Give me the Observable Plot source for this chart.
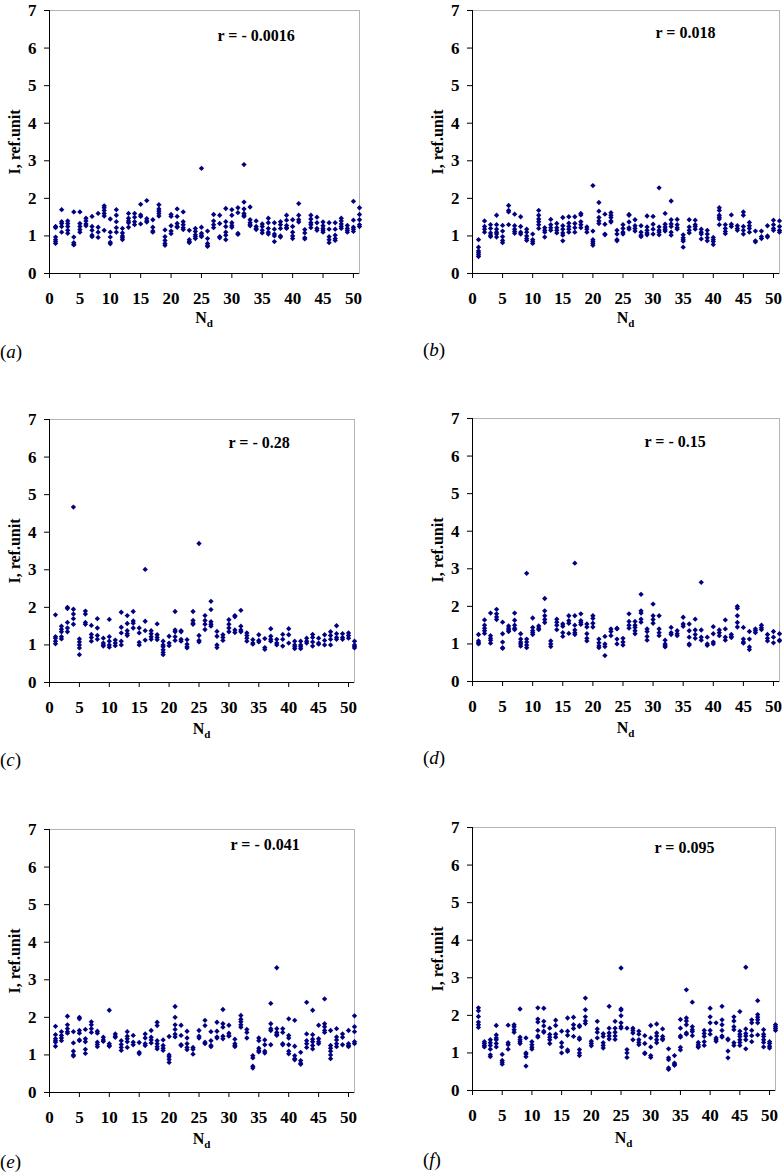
<!DOCTYPE html>
<html><head><meta charset="utf-8">
<script src="https://cdn.jsdelivr.net/npm/d3@7"></script>
<script src="https://cdn.jsdelivr.net/npm/@observablehq/plot@0.6"></script>
<style>
body{margin:0;background:#fff;}
#root{position:relative;width:782px;height:1172px;overflow:hidden;font-family:"Liberation Serif","Times New Roman",serif;background:#fff;}
.panel{position:absolute;}
.tag{position:absolute;font-size:19px;line-height:22px;color:#000;}
.xl{position:absolute;font-weight:bold;font-size:16px;line-height:18px;color:#000;transform:translate(-50%,-50%);white-space:nowrap;}
.xl sub{font-size:11px;vertical-align:-4px;line-height:0;}
</style></head><body><div id="root"></div><script>
// N_d categories
const nd = [1,2,3,4,5,6,7,8,9,10,11,12,13,14,15,16,17,18,19,20,21,22,23,24,25,26,27,28,29,30,31,32,33,34,35,36,37,38,39,40,41,42,43,44,45,46,47,48,49,50,51];
const xTicks = [0,5,10,15,20,25,30,35,40,45,50];
const yTicks = [0,1,2,3,4,5,6,7];
const panelTags = ["a","b","c","d","e","f"];
const rLabels = ["r = - 0.0016","r = 0.018","r = - 0.28","r = - 0.15","r = - 0.041","r = 0.095"];

const valuesA = [[1.25,1.22,0.97,0.9,0.85,0.8],[1.7,1.38,1.33,1.25,1.1],[1.4,1.33,1.25,1.15,1.07],[1.64,0.97,0.82,0.78,0.76],[1.64,1.33,1.25,1.17,1.1],[1.47,1.4,1.32,1.27],[1.52,1.25,1.15,1.02,0.98],[1.6,1.23,1.1,0.96],[1.8,1.75,1.68,1.6,1.53,1.15],[1.45,1.1,0.97,0.83,0.79],[1.7,1.55,1.38,1.22,1.1],[1.2,1.08,1.0,0.95,0.9],[1.6,1.47,1.4,1.35,1.23],[1.6,1.5,1.38,1.3],[1.84,1.56,1.52,1.32],[1.94,1.46,1.4,1.37],[1.43,1.23,1.13,1.1],[1.83,1.72,1.66,1.6,1.53],[1.16,0.98,0.88,0.8,0.75],[1.57,1.52,1.27,1.13,1.06],[1.72,1.52,1.33,1.25,1.23],[1.64,1.38,1.3,1.22,1.17],[1.15,0.9,0.85,0.82],[1.2,1.12,1.03,0.98,0.93],[2.8,1.23,1.07,1.02,0.98],[1.13,0.93,0.8,0.75,0.72],[1.57,1.4,1.3,1.22],[1.55,1.33,0.98,0.95],[1.73,1.38,1.25,1.1,1.02,0.9],[1.7,1.55,1.35,1.28,1.23],[1.75,1.62,1.07,1.04],[2.9,1.9,1.72,1.6,1.55,1.52],[1.77,1.43,1.35,1.3,1.27],[1.4,1.25,1.2,1.17],[1.32,1.25,1.15,1.08],[1.47,1.35,1.2,1.1,1.05],[1.35,1.18,1.05,1.0,0.85],[1.38,1.3,1.2,1.0,0.97],[1.55,1.42,1.28,1.22,1.2],[1.43,1.25,1.1,1.0,0.93],[1.86,1.55,1.43,1.37],[1.17,1.08,0.95,0.92],[1.55,1.45,1.35,1.3,1.22],[1.5,1.35,1.2,1.15],[1.37,1.27,1.2,1.15,1.1],[1.35,1.18,0.98,0.9,0.82],[1.35,1.18,1.02,0.93,0.88],[1.47,1.4,1.32,1.25,1.2],[1.28,1.2,1.15,1.1],[1.92,1.42,1.23,1.18,1.12],[1.75,1.57,1.43,1.3,1.25]];

const valuesB = [[0.9,0.7,0.6,0.55,0.5,0.45],[1.4,1.25,1.18,1.1],[1.3,1.2,1.08,1.02,0.98],[1.55,1.3,1.18,1.1,1.05,0.97],[1.28,1.13,0.98,0.88,0.82],[1.81,1.68,1.64,1.3],[1.58,1.27,1.18,1.12,1.07],[1.51,1.25,1.1,1.05],[1.18,1.1,1.0,0.93,0.88],[1.05,0.9,0.85,0.8],[1.68,1.55,1.45,1.38,1.3,1.2],[1.22,1.15,1.1,0.97],[1.44,1.3,1.22,1.15],[1.33,1.22,1.15,1.08],[1.49,1.27,1.18,1.08,1.02,0.87],[1.51,1.34,1.25,1.18,1.1],[1.51,1.33,1.22,1.1],[1.6,1.56,1.38,1.3,1.22],[1.24,1.18,1.1],[2.34,1.13,0.9,0.85,0.8,0.75],[1.89,1.66,1.49,1.4,1.33],[1.58,1.31,1.05,1.03],[1.62,1.55,1.49,1.4,1.37],[1.15,1.05,0.9,0.87],[1.3,1.2,1.1,1.05],[1.57,1.55,1.37,1.22,1.18],[1.43,1.27,1.2,1.13],[1.27,1.1,1.02,0.98],[1.53,1.24,1.15,1.08,1.03],[1.52,1.31,1.18,1.05],[2.28,1.24,1.15,1.1,1.03],[1.6,1.31,1.24,1.18,1.13],[1.93,1.43,1.32,1.25,1.1,1.02],[1.44,1.3,1.22,1.18],[1.03,0.95,0.9,0.86,0.7],[1.43,1.24,1.15,1.08],[1.42,1.3,1.25,1.18],[1.18,1.1,1.05,0.92],[1.15,1.05,0.95,0.87],[0.96,0.9,0.85,0.77],[1.75,1.68,1.55,1.5,1.45,1.3],[1.3,1.2,1.12,1.06],[1.56,1.31,1.25],[1.27,1.2,1.15],[1.64,1.55,1.25,1.15,1.05],[1.36,1.27,1.2,1.1],[1.13,0.87,0.84],[1.13,0.98,0.93],[1.27,1.0,0.97],[1.42,1.3,1.2,1.15],[1.4,1.25,1.15,1.1]];

const valuesC = [[1.8,1.22,1.18,1.1,1.03],[1.5,1.42,1.35,1.22,1.16],[2.0,1.97,1.6,1.45,1.35],[4.67,1.95,1.82,1.7,1.55],[1.16,1.08,1.0,0.92,0.74],[1.9,1.82,1.6,1.55],[1.52,1.28,1.2,1.1],[1.7,1.45,1.25,1.15],[1.18,1.05,1.0,0.97],[1.68,1.22,1.1,1.0,0.94],[1.13,1.05,0.98],[1.87,1.47,1.32,1.1,1.0],[1.78,1.57,1.38,1.3,1.25],[1.89,1.64,1.58,1.45],[1.45,1.32,1.07,1.0],[3.01,1.63,1.38,1.13],[1.38,1.3,1.22,1.15],[1.56,1.27,1.2,1.14],[1.1,1.0,0.95,0.87,0.8,0.74],[1.23,1.05,0.98],[1.89,1.4,1.35,1.22,1.12],[1.38,1.35,1.15,1.1],[1.14,1.02,0.95,0.92],[1.89,1.65,1.58,1.55],[3.7,1.25,1.12,1.08],[1.78,1.65,1.55,1.41],[2.16,1.94,1.62,1.55,1.5],[1.36,1.23,1.0,0.93],[1.27,1.2,1.12],[1.67,1.55,1.45,1.35],[1.78,1.75,1.4,1.33],[1.92,1.5,1.4,1.35],[1.32,1.25,1.18,1.1],[1.14,1.05,1.02],[1.27,1.12,1.08],[1.17,0.93,0.88],[1.43,1.23,1.15,1.1],[1.15,1.05,1.0],[1.28,1.15,0.97],[1.43,1.27,1.05],[1.1,1.0,0.95,0.9],[1.1,1.0,0.95,0.9],[1.18,1.1,1.05],[1.28,1.2,1.08,0.97],[1.18,1.05,1.02],[1.27,1.12,1.0],[1.35,1.25,1.15,1.0],[1.51,1.3,1.2,1.15],[1.3,1.2,1.15],[1.32,1.25,1.18],[1.1,1.0,0.96,0.92]];

const valuesD = [[1.25,1.08,1.03,1.0],[1.64,1.5,1.42,1.35,1.28],[1.82,1.22,1.15,1.1,1.02],[1.92,1.8,1.72,1.65],[1.58,1.27,1.05,0.9,0.88],[1.48,1.42,1.37,1.33],[1.82,1.63,1.5,1.42,1.38],[1.27,1.13,1.05,1.0,0.94],[2.88,1.13,1.05,0.97,0.9],[1.69,1.44,1.35,1.3,1.25],[1.48,1.42,1.38],[2.21,1.88,1.75,1.65,1.57],[1.08,1.0,0.93],[1.66,1.58,1.5,1.38],[1.53,1.47,1.3,1.2],[1.75,1.62,1.55,1.28],[3.15,1.75,1.5,1.37,1.3,1.25],[1.8,1.62,1.57,1.52],[1.53,1.45,1.27,1.15,1.08],[1.75,1.68,1.55,1.45],[1.13,1.03,0.95,0.9],[1.2,1.0,0.93,0.69],[1.4,1.33,1.22],[1.42,1.4,1.13,1.0],[1.15,1.05,0.97],[1.8,1.6,1.5,1.42],[1.6,1.5,1.44,1.35,1.27],[2.32,1.88,1.82,1.66,1.58],[1.4,1.33,1.2,1.1],[2.06,1.75,1.65,1.55],[1.75,1.4,1.3,1.22],[1.1,1.0,0.95,0.92],[1.44,1.3,1.25],[1.35,1.27,1.22],[1.71,1.53,1.47],[1.53,1.35,1.18,1.0,0.97],[1.66,1.37,1.25,1.15],[2.64,1.37,1.18,1.1],[1.18,1.0,0.96],[1.46,1.27,1.05,1.0],[1.37,1.3,1.22],[1.64,1.4,1.18,1.1],[1.25,1.2,1.17],[2.0,1.95,1.75,1.57,1.45],[1.44,1.13,1.05,1.02],[1.33,1.13,0.92,0.85],[1.4,1.35,1.3],[1.5,1.43,1.38],[1.25,1.15,1.08],[1.33,1.18,1.03],[1.27,1.1,1.08]];

const valuesE = [[1.76,1.54,1.43,1.38,1.34,1.23],[1.62,1.52,1.45,1.38],[2.03,1.8,1.7,1.62,1.58],[1.62,1.32,1.1,1.0,0.97],[2.0,1.96,1.65,1.58,1.4,1.38],[1.68,1.43,1.35,1.15,1.04],[1.88,1.8,1.7,1.6],[1.63,1.58,1.34,1.28,1.22],[1.47,1.4,1.36],[2.19,1.3,1.25,1.23],[1.56,1.5,1.47],[1.38,1.28,1.2,1.12],[1.62,1.5,1.43,1.35,1.2],[1.52,1.34,1.27],[1.33,1.07,1.03],[1.56,1.45,1.3,1.25],[1.65,1.47,1.4,1.32],[1.87,1.78,1.38,1.3,1.22,1.16],[1.4,1.25,1.18,1.12],[1.49,1.0,0.95,0.88,0.8],[2.29,2.0,1.8,1.68,1.55,1.48],[1.79,1.52,1.27,1.25],[1.63,1.45,1.3,1.2,1.14],[1.2,1.15,1.02],[1.65,1.5,1.45],[1.92,1.78,1.34,1.3],[1.62,1.38,1.25,1.22],[1.87,1.63,1.48,1.45],[2.21,1.83,1.74,1.5,1.43],[1.79,1.58,1.52,1.5],[1.42,1.3,1.25,1.22],[2.05,1.95,1.88,1.8,1.74],[1.68,1.6,1.45],[0.98,0.92,0.7,0.65],[1.45,1.38,1.18,1.12,1.08],[1.4,1.27,1.1,1.05],[2.37,1.83,1.7,1.65,1.27],[3.32,1.7,1.6,1.55,1.52],[1.7,1.6,1.3,1.27],[1.96,1.52,1.45,1.27,1.1,1.03],[1.92,1.23,0.98,0.9,0.87],[1.07,0.85,0.78,0.75],[2.4,1.56,1.38,1.3,1.2],[2.19,1.54,1.42,1.35,1.25,1.16],[1.79,1.43,1.35,1.3],[2.49,1.83,1.75,1.65,1.6],[1.65,1.25,1.18,1.1,1.0,0.9],[1.7,1.48,1.4,1.3,1.22],[1.56,1.47,1.27],[1.65,1.3,1.25,1.22],[2.04,1.75,1.62,1.35,1.3]];

const valuesF = [[2.2,2.12,1.97,1.82,1.75,1.68],[1.3,1.25,1.2,1.16],[1.35,1.27,1.2,1.1,0.95,0.9],[1.73,1.48,1.4,1.35,1.25,1.16],[0.96,0.8,0.75,0.7],[1.74,1.27,1.22,1.1],[1.75,1.7,1.62,1.55],[2.17,1.42,1.35,1.3,1.25],[1.4,1.0,0.97,0.9,0.65],[1.3,1.22,1.15,1.1],[2.2,1.9,1.82,1.6,1.45,1.42],[2.19,1.84,1.72,1.58,1.55],[1.66,1.49,1.42,1.35,1.25],[1.87,1.73,1.5,1.42],[1.58,1.27,1.16,1.0],[1.93,1.58,1.47,1.08,1.04],[1.95,1.75,1.65,1.44],[1.73,1.7,1.4,1.36,1.09,1.0,0.93],[2.46,2.15,1.96,1.85,1.78],[1.31,1.25,1.19],[1.84,1.64,1.55,1.4],[1.51,1.44,1.27,1.2,1.13],[2.24,1.66,1.53,1.45,1.37],[1.84,1.66,1.55,1.45,1.36],[3.26,2.17,2.14,1.99,1.8,1.7,1.66],[1.66,1.09,1.0,0.88],[1.66,1.6,1.53,1.35],[1.58,1.5,1.35,1.28,1.22],[1.46,1.25,1.0,0.98],[1.73,1.4,1.16,0.93,0.88],[1.77,1.53,1.45,1.35,1.27],[1.64,1.44,1.38,1.35],[1.11,0.87,0.82,0.6,0.56],[0.93,0.73,0.7,0.67],[1.89,1.66,1.45,1.42,1.15,1.08],[2.68,1.93,1.85,1.75,1.53,1.5],[2.35,1.7,1.62,1.57,1.46],[1.28,1.22,1.18,1.15],[1.6,1.52,1.44,1.3,1.2],[2.19,1.96,1.8,1.6,1.5],[1.8,1.4,1.35,1.31],[2.24,1.88,1.75,1.6,1.45,1.42],[1.37,1.35,1.05,0.87],[1.96,1.85,1.7,1.62,1.27,1.2],[2.1,1.58,1.5,1.44,1.35,1.28,1.2],[3.28,1.64,1.52,1.45,1.35,1.11],[1.88,1.8,1.6,1.46,1.3],[2.39,2.02,1.95,1.88,1.8,1.48],[1.62,1.5,1.44,1.35,1.28,1.16],[1.3,1.25,1.18,1.13],[1.75,1.7,1.65,1.6]];

const allValues = [valuesA, valuesB, valuesC, valuesD, valuesE, valuesF];

// layout (pixels) per panel
const layout = [
  {left:0,   top:3,   width:391, mr:32, ry:[168,25], tagY:338, xlY:315},
  {left:423, top:3,   width:359, mr:3,  ry:[183,22], tagY:336, xlY:315},
  {left:0,   top:412, width:391, mr:37, ry:[179,23], tagY:337, xlY:317},
  {left:423, top:411, width:359, mr:3,  ry:[172,23], tagY:336, xlY:317},
  {left:0,   top:822, width:391, mr:37, ry:[181,15], tagY:329, xlY:317},
  {left:423, top:820, width:359, mr:7,  ry:[182,20], tagY:329, xlY:318}
];

const root = document.getElementById("root");
const FONT = "Liberation Serif, Times New Roman, serif";
const MT = 7, PH = 263, H = 330, ML = 49;
const tickFont = {fontFamily: FONT, fontSize: 17, fontWeight: "bold"};
const textFont = {fontFamily: FONT, fontSize: 16, fontWeight: "bold"};

allValues.forEach((vals, k) => {
  const L = layout[k];
  const data = vals.flatMap((ys, i) => ys.map(v => ({n: nd[i], v})));
  const chart = Plot.plot({
    width: L.width, height: H,
    marginLeft: ML, marginRight: L.mr, marginTop: MT, marginBottom: H - MT - PH,
    style: {fontFamily: FONT, fontSize: "16px", fontWeight: "bold", color: "#000", background: "#fff", overflow: "visible"},
    x: {domain: [0, 51]},
    y: {domain: [0, 7]},
    marks: [
      Plot.frame({stroke: "#b4b4b4"}),
      Plot.axisX({ticks: xTicks, tickFormat: d => String(d), tickSize: 5, tickPadding: 13, label: null, stroke: "#000", ...tickFont}),
      Plot.axisY({ticks: yTicks, tickFormat: d => String(d), tickSize: 5, tickPadding: 8, label: null, stroke: "#000", ...tickFont}),
      Plot.axisY({ticks: [], tickSize: 0, label: "I, ref.unit", labelAnchor: "center", labelArrow: "none", labelOffset: 41, ...textFont}),
      Plot.dot(data, {x: "n", y: "v", symbol: "diamond2", fill: "#000080", stroke: null, r: 2.4}),
      Plot.ruleX([0], {stroke: "#000", strokeWidth: 1}),
      Plot.ruleY([0], {stroke: "#000", strokeWidth: 1}),
      Plot.text([rLabels[k]], {text: d => d, frameAnchor: "top-left", dx: L.ry[0], dy: L.ry[1], textAnchor: "start", lineAnchor: "middle", fill: "#000", ...textFont})
    ]
  });
  const wrap = document.createElement("div");
  wrap.className = "panel";
  wrap.style.left = L.left + "px";
  wrap.style.top = L.top + "px";
  wrap.appendChild(chart);
  root.appendChild(wrap);

  // x axis title N_d (subscript needs HTML)
  const xl = document.createElement("div");
  xl.className = "xl";
  xl.innerHTML = "N<sub>d</sub>";
  xl.style.left = (L.left + ML + (L.width - ML - L.mr) / 2) + "px";
  xl.style.top = (L.top + L.xlY) + "px";
  root.appendChild(xl);

  // panel tag (a)...(f)
  const tg = document.createElement("div");
  tg.className = "tag";
  tg.innerHTML = "(<i>" + panelTags[k] + "</i>)";
  tg.style.left = L.left + "px";
  tg.style.top = (L.top + L.tagY) + "px";
  root.appendChild(tg);
});
</script></body></html>
